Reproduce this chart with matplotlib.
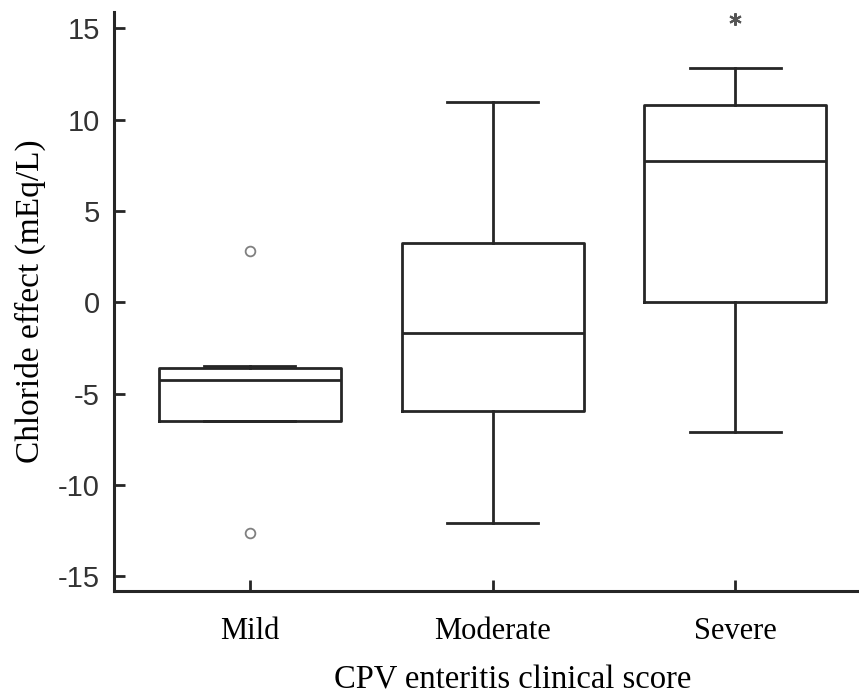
import numpy as np
import matplotlib.pyplot as plt

# Box-plot summary values (mEq/L)
groups = ['Mild', 'Moderate', 'Severe']
q1 = [-6.5, -5.95, 0.0]
med = [-4.25, -1.65, 7.75]
q3 = [-3.6, 3.25, 10.8]
whis_lo = [-6.5, -12.05, -7.1]
whis_hi = [-3.5, 10.95, 12.85]
outliers = [[2.8, -12.6], [], [15.5]]

stats = []
for i, g in enumerate(groups):
    stats.append({'label': g, 'q1': q1[i], 'med': med[i], 'q3': q3[i],
                  'whislo': whis_lo[i], 'whishi': whis_hi[i],
                  'fliers': np.array(outliers[i])})

line_col = '#262626'
fig = plt.figure(figsize=(8.59, 6.95), dpi=100)
ax = fig.add_axes([0.1327, 0.1496, 0.8673, 0.8331])

lp = dict(color=line_col, linewidth=2.0)
res = ax.bxp(stats, positions=[1, 2, 3], widths=0.75,
             boxprops=lp, whiskerprops=lp, capprops=lp, medianprops=lp,
             flierprops=dict(marker='o', markersize=7, markerfacecolor='none',
                             markeredgecolor='#808080', markeredgewidth=1.3))
# severe group marks its extreme value with an asterisk
res['fliers'][2].set_marker((6, 2, 0))
res['fliers'][2].set_markeredgecolor('#555555')
res['fliers'][2].set_markeredgewidth(1.5)
res['fliers'][2].set_markersize(9)

ax.set_xlim(0.44, 3.51)
ax.set_ylim(-15.8, 15.9)
ax.set_yticks([-15, -10, -5, 0, 5, 10, 15])
ax.set_yticklabels(['-15', '-10', '-5', '0', '5', '10', '15'],
                   family='Liberation Sans', fontsize=21, color='#333333')
ax.set_xticks([1, 2, 3])
ax.set_xticklabels(groups, family='Liberation Serif', fontsize=22)

for s in ['top', 'right']:
    ax.spines[s].set_visible(False)
for s in ['left', 'bottom']:
    ax.spines[s].set_linewidth(2.2)
    ax.spines[s].set_color(line_col)
ax.tick_params(axis='y', direction='in', length=8, width=2, color=line_col, pad=10)
ax.tick_params(axis='x', direction='in', length=8, width=2, color=line_col, pad=19)

ax.set_ylabel('Chloride effect (mEq/L)', family='Liberation Serif', fontsize=24, labelpad=9)
ax.set_xlabel('CPV enteritis clinical score', family='Liberation Serif', fontsize=23.5)
ax.xaxis.set_label_coords(0.5356, -0.127)

fig.savefig('out.png', dpi=100)
